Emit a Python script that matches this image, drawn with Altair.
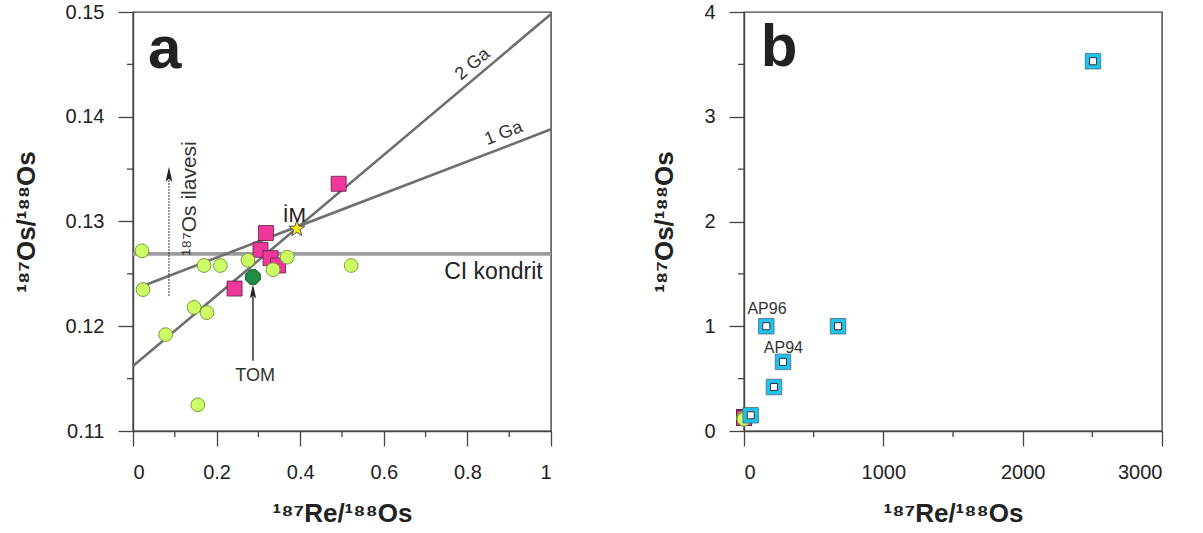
import altair as alt
import pandas as pd

# ---------------- panel a data ----------------
circle_re = [0.0215, 0.024, 0.170, 0.209, 0.275, 0.369, 0.335, 0.522, 0.146, 0.177, 0.078, 0.155]
circle_os = [0.1272, 0.1235, 0.1258, 0.1258, 0.1263, 0.1266, 0.1254, 0.1258, 0.1218, 0.1213, 0.1192, 0.1125]
square_re = [0.492, 0.318, 0.305, 0.329, 0.347, 0.243]
square_os = [0.1336, 0.1289, 0.1273, 0.1265, 0.1258, 0.1236]
tom_re, tom_os = [0.287], [0.1247]
im_re, im_os = [0.392], [0.1293]

# reference lines
ci_os = 0.1269
ga2_re, ga2_os = [0.0, 1.0], [0.1162, 0.1498]
ga1_re, ga1_os = [0.02, 1.0], [0.1238, 0.1388]

# ---------------- panel b data ----------------
ap_re = [2505, 160, 675, 280, 215, 48]
ap_os = [3.53, 1.00, 1.00, 0.66, 0.42, 0.15]
ap_labels = ["AP96", "AP94"]
ap_label_re = [165, 283]
ap_label_os = [1.114, 0.748]

# axis ticks
a_x_major = [0, 0.2, 0.4, 0.6, 0.8, 1]
a_x_minor = [0.1, 0.3, 0.5, 0.7, 0.9]
a_y_major = [0.11, 0.12, 0.13, 0.14, 0.15]
a_y_minor = [0.115, 0.125, 0.135, 0.145]
b_x_major = [0, 1000, 2000, 3000]
b_x_minor = [500, 1500, 2500]
b_y_major = [0, 1, 2, 3, 4]
b_y_minor = [0.5, 1.5, 2.5, 3.5]

W, H = 418, 419
FONT = "Liberation Sans"
AXIS_C = "#444444"
LINE_C = "#6f6f6f"
GREEN = "#ccff66"
PINK = "#f0389b"
CYAN = "#1ec3f0"

# symbol outlines in the unit square [-1, 1]
OCTAGON = "M-0.414,-1L0.414,-1L1,-0.414L1,0.414L0.414,1L-0.414,1L-1,0.414L-1,-0.414Z"
ARROW = "M0,-1L0.45,1L0,0.6L-0.45,1Z"
STAR = ("M0,-1L0.235,-0.324L0.951,-0.309L0.380,0.124L0.588,0.809L0,0.4"
        "L-0.588,0.809L-0.380,0.124L-0.951,-0.309L-0.235,-0.324Z")


def df(xs, ys, **extra):
    d = pd.DataFrame({"px": xs, "py": ys})
    for k, v in extra.items():
        d[k] = v
    return d


def encs(xdom, ydom, xvals, yvals):
    lbl = "toString(datum.value)"
    title_x = "¹⁸⁷Re/¹⁸⁸Os"
    title_y = "¹⁸⁷Os/¹⁸⁸Os"
    x = alt.X("px:Q", scale=alt.Scale(domain=xdom, nice=False, zero=False),
              axis=alt.Axis(values=xvals, labelExpr=lbl, title=title_x))
    y = alt.Y("py:Q", scale=alt.Scale(domain=ydom, nice=False, zero=False),
              axis=alt.Axis(values=yvals, labelExpr=lbl, title=title_y))
    return x, y


def minor_ticks(xs, ys, X, Y):
    mx = alt.Chart(pd.DataFrame({"px": xs})).mark_rule(color=AXIS_C, strokeWidth=1.3).encode(
        x=X, y=alt.value(H), y2=alt.value(H + 6))
    my = alt.Chart(pd.DataFrame({"py": ys})).mark_rule(color=AXIS_C, strokeWidth=1.3).encode(
        y=Y, x=alt.value(-6), x2=alt.value(0))
    return [mx, my]


def sample_points(X, Y):
    sq = alt.Chart(df(square_re, square_os)).mark_point(
        shape="square", filled=True, size=225, fill=PINK, stroke="#5a2040",
        strokeWidth=0.8, opacity=1).encode(x=X, y=Y)
    ci = alt.Chart(df(circle_re, circle_os)).mark_point(
        shape="circle", filled=True, size=190, fill=GREEN, stroke="#7f9a3a",
        strokeWidth=1, opacity=1).encode(x=X, y=Y)
    return [sq, ci]


# ================= panel a =================
Xa, Ya = encs([0, 1], [0.11, 0.15], a_x_major, a_y_major)

ci_line = alt.Chart(df([0, 1], [ci_os, ci_os])).mark_line(
    color="#9c9c9c", strokeWidth=3.8).encode(x=Xa, y=Ya)
ga2_line = alt.Chart(df(ga2_re, ga2_os)).mark_line(
    color=LINE_C, strokeWidth=2.6).encode(x=Xa, y=Ya)
ga1_line = alt.Chart(df(ga1_re, ga1_os)).mark_line(
    color=LINE_C, strokeWidth=2.6).encode(x=Xa, y=Ya)

tom = alt.Chart(df(tom_re, tom_os)).mark_point(
    shape=OCTAGON, filled=True, size=210, fill="#1f8f45", stroke="#0f4a22",
    strokeWidth=1, opacity=1).encode(x=Xa, y=Ya)
star = alt.Chart(df(im_re, im_os)).mark_point(
    shape=STAR, filled=True, size=290, fill="#ffe81a", stroke="#555555",
    strokeWidth=1, opacity=1).encode(x=Xa, y=Ya)

# TOM arrow
tom_shaft = alt.Chart(df([0.287], [0.1167], py2=0.1232)).mark_rule(
    color="#333333", strokeWidth=1.5).encode(x=Xa, y=Ya, y2="py2:Q")
tom_head = alt.Chart(df([0.287], [0.12333])).mark_point(
    shape=ARROW, filled=True, size=196, fill="#222222", opacity=1).encode(x=Xa, y=Ya)

# 187Os addition arrow (dotted)
add_shaft = alt.Chart(df([0.086], [0.1229], py2=0.1343)).mark_rule(
    color="#333333", strokeWidth=1.3, strokeDash=[1.5, 1.5]).encode(x=Xa, y=Ya, y2="py2:Q")
add_head = alt.Chart(df([0.086], [0.1345])).mark_point(
    shape=ARROW, filled=True, size=225, fill="#222222", opacity=1).encode(x=Xa, y=Ya)


def label(xs, ys, texts, **kw):
    base = dict(font=FONT, color="#333333")
    base.update(kw)
    return alt.Chart(df(xs, ys, t=texts)).mark_text(**base).encode(x=Xa, y=Ya, text="t:N")


texts_a = [
    label([0.813], [0.1450], ["2 Ga"], fontSize=18, angle=320, align="center", baseline="middle"),
    label([0.887], [0.1384], ["1 Ga"], fontSize=18, angle=339, align="center", baseline="middle"),
    label([0.386], [0.1300], ["İM"], fontSize=21, align="center", baseline="alphabetic", color="#222222"),
    label([0.98], [0.1245], ["CI kondrit"], fontSize=23, align="right", baseline="alphabetic", color="#222222"),
    label([0.292], [0.1148], ["TOM"], fontSize=18, align="center", baseline="alphabetic"),
    label([0.1375], [0.1322], ["¹⁸⁷Os ilavesi"], fontSize=21, angle=270, align="center", baseline="middle"),
    label([0.036], [0.1447], ["a"], fontSize=60, fontWeight="bold", align="left",
          baseline="alphabetic", color="#222222"),
]

panel_a = alt.layer(
    ci_line, ga2_line, ga1_line,
    *minor_ticks(a_x_minor, a_y_minor, Xa, Ya),
    tom_shaft, tom_head, add_shaft, add_head,
    *sample_points(Xa, Ya), tom, star,
    *texts_a,
).properties(width=W, height=H)

# ================= panel b =================
Xb, Yb = encs([0, 3000], [0, 4], b_x_major, b_y_major)

ap_outer = alt.Chart(df(ap_re, ap_os)).mark_point(
    shape="square", filled=True, size=240, fill=CYAN, stroke="#4a6a78",
    strokeWidth=0.8, opacity=1).encode(x=Xb, y=Yb)
ap_inner = alt.Chart(df(ap_re, ap_os)).mark_point(
    shape="square", filled=True, size=50, fill="#ffffff", stroke="#333333",
    strokeWidth=1, opacity=1).encode(x=Xb, y=Yb)
ap_text = alt.Chart(df(ap_label_re, ap_label_os, t=ap_labels)).mark_text(
    font=FONT, fontSize=16, color="#333333", align="center", baseline="alphabetic"
).encode(x=Xb, y=Yb, text="t:N")
b_letter = alt.Chart(df([120], [3.485], t=["b"])).mark_text(
    font=FONT, fontSize=60, fontWeight="bold", color="#222222", align="left",
    baseline="alphabetic").encode(x=Xb, y=Yb, text="t:N")

panel_b = alt.layer(
    *minor_ticks(b_x_minor, b_y_minor, Xb, Yb),
    *sample_points(Xb, Yb), ap_outer, ap_inner, ap_text, b_letter,
).properties(width=W, height=H)

chart = alt.hconcat(panel_a, panel_b, spacing=91).properties(
    padding={"left": 12, "top": 1, "right": 5, "bottom": 5},
).configure_view(
    stroke=AXIS_C, strokeWidth=1.4,
).configure_axis(
    grid=False,
    domainColor=AXIS_C, domainWidth=1.4,
    tickColor=AXIS_C, tickWidth=1.3, tickSize=15,
    labelFont=FONT, labelFontSize=20, labelColor="#222222",
    titleFont=FONT, titleFontSize=26, titleFontWeight="bold", titleColor="#222222",
).configure_axisX(
    labelPadding=16, titlePadding=18,
).configure_axisY(
    labelPadding=14, titlePadding=26,
)

chart.save("out.html", embed_options={"renderer": "svg", "actions": False})
